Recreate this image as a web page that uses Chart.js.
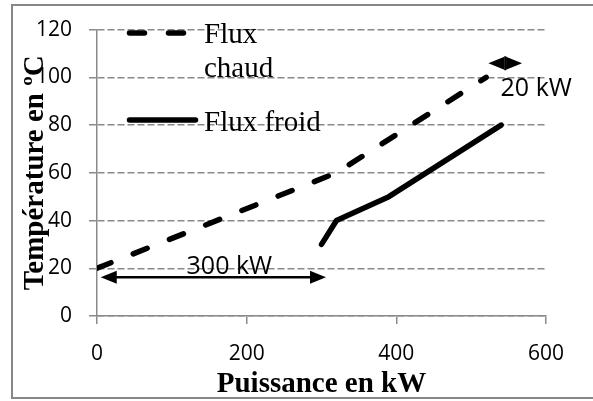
<!DOCTYPE html>
<html>
<head>
<meta charset="utf-8">
<script src="https://cdn.jsdelivr.net/npm/chart.js@4.4.1/dist/chart.umd.min.js"></script>
<style>
  html, body { margin: 0; padding: 0; background: #fff; }
  #wrap { width: 593px; height: 401px; }
</style>
</head>
<body>
<div id="wrap"><canvas id="pinch"></canvas></div>
<script>
// flux chaud / flux froid (kW, °C)
const hotX = [0, 320, 520];
const hotY = [20, 60, 100];
const coldX = [300, 320, 390, 540];
const coldY = [30, 40, 50, 80];

const xTicks = [0, 200, 400, 600];
const yTicks = [0, 20, 40, 60, 80, 100, 120];

// annotations in data units
const bigArrowX = [5, 306];
const bigArrowY = 16.2;
const bigArrowLabel = '300 kW';
const smallArrowX = [523, 568];
const smallArrowY = 105.9;
const smallArrowLabel = '20 kW';

const gridGrey = '#8a8a8a';
const serif = '"Liberation Serif", "DejaVu Serif", serif';
const sans = '"Open Sans", "Liberation Sans", sans-serif';

function toPoints(xs, ys){
  return xs.map((x, i) => ({x: x, y: ys[i]}));
}

function arrowHead(ctx, x, y, dir){
  ctx.beginPath();
  ctx.moveTo(x, y);
  ctx.lineTo(x - dir * 16, y - 6.5);
  ctx.lineTo(x - dir * 16, y + 6.5);
  ctx.closePath();
  ctx.fill();
}

const extras = {
  id: 'extras',
  beforeDraw(chart){
    const ctx = chart.ctx;
    ctx.save();
    ctx.fillStyle = '#fff';
    ctx.fillRect(0, 0, chart.width, chart.height);
    ctx.strokeStyle = '#878787';
    ctx.lineWidth = 2;
    ctx.strokeRect(12, 5, 620, 393);
    ctx.restore();
  },
  afterDraw(chart){
    const ctx = chart.ctx;
    const xs = chart.scales.x, ys = chart.scales.y;
    const area = chart.chartArea;
    ctx.save();

    // axis titles
    ctx.fillStyle = '#000';
    ctx.font = 'bold 29px ' + serif;
    ctx.textAlign = 'center';
    ctx.textBaseline = 'alphabetic';
    ctx.fillText('Puissance en kW', (area.left + area.right) / 2, 392);
    ctx.save();
    ctx.translate(43, (area.top + area.bottom) / 2);
    ctx.rotate(-Math.PI / 2);
    ctx.fillText('Température en ºC', 0, 0);
    ctx.restore();

    // legend
    ctx.strokeStyle = '#000';
    ctx.lineWidth = 5.5;
    ctx.lineCap = 'round';
    ctx.setLineDash([15, 24]);
    ctx.beginPath();
    ctx.moveTo(129.5, 33);
    ctx.lineTo(186, 33);
    ctx.stroke();
    ctx.setLineDash([]);
    ctx.beginPath();
    ctx.moveTo(129.5, 120);
    ctx.lineTo(195.5, 120);
    ctx.stroke();
    ctx.font = '29px ' + serif;
    ctx.textAlign = 'left';
    ctx.fillText('Flux', 204, 43);
    ctx.fillText('chaud', 204, 77);
    ctx.fillText('Flux froid', 204, 131);

    // 300 kW arrow
    let x1 = xs.getPixelForValue(bigArrowX[0]);
    let x2 = xs.getPixelForValue(bigArrowX[1]);
    let y = ys.getPixelForValue(bigArrowY);
    ctx.lineCap = 'butt';
    ctx.lineWidth = 2.5;
    ctx.beginPath();
    ctx.moveTo(x1 + 10, y);
    ctx.lineTo(x2 - 10, y);
    ctx.stroke();
    arrowHead(ctx, x1, y, -1);
    arrowHead(ctx, x2, y, 1);
    ctx.font = '25px ' + sans;
    ctx.textAlign = 'center';
    ctx.textBaseline = 'middle';
    ctx.fillText(bigArrowLabel, (x1 + x2) / 2 + 16, y - 10);

    // 20 kW arrow
    x1 = xs.getPixelForValue(smallArrowX[0]);
    x2 = xs.getPixelForValue(smallArrowX[1]);
    y = ys.getPixelForValue(smallArrowY);
    const mid = (x1 + x2) / 2;
    arrowHead(ctx, x1, y, -1);
    arrowHead(ctx, x2, y, 1);
    ctx.lineWidth = 2;
    ctx.beginPath();
    ctx.moveTo(mid, y - 7);
    ctx.lineTo(mid, y + 7);
    ctx.stroke();
    ctx.fillText(smallArrowLabel, mid + 31, y + 26);

    ctx.restore();
  }
};

new Chart(document.getElementById('pinch'), {
  type: 'line',
  data: {
    datasets: [{
      label: 'Flux chaud',
      data: toPoints(hotX, hotY),
      borderColor: '#000',
      borderWidth: 5.5,
      borderDash: [15, 24],
      borderCapStyle: 'round',
      pointRadius: 0,
      tension: 0,
      fill: false
    },
    {
      label: 'Flux froid',
      data: toPoints(coldX, coldY),
      borderColor: '#000',
      borderWidth: 5.5,
      borderCapStyle: 'round',
      borderJoinStyle: 'round',
      pointRadius: 0,
      tension: 0,
      fill: false
    }]
  },
  options: {
    responsive: true,
    maintainAspectRatio: false,
    animation: false,
    layout: {
      padding: { left: 0, right: 47, top: 25, bottom: 0 }
    },
    plugins: {
      legend: { display: false },
      tooltip: { enabled: false }
    },
    scales: {
      x: {
        type: 'linear',
        min: 0,
        max: 600,
        afterFit: s => { s.height = 85; },
        afterBuildTicks: s => { s.ticks = xTicks.map(v => ({value: v})); },
        border: { display: true, color: gridGrey, width: 1.5 },
        grid: {
          drawOnChartArea: false,
          drawTicks: true,
          tickLength: 8,
          color: gridGrey,
          lineWidth: 1.5
        },
        ticks: {
          color: '#000',
          padding: 17,
          maxRotation: 0,
          font: { family: sans, size: 21 }
        }
      },
      y: {
        min: 0,
        max: 120,
        afterFit: s => { s.width = 97; },
        afterBuildTicks: s => { s.ticks = yTicks.map(v => ({value: v})); },
        border: { display: true, color: gridGrey, width: 1.5, dash: [7, 3] },
        grid: {
          color: gridGrey,
          lineWidth: 1.5,
          tickLength: 8,
          tickBorderDash: []
        },
        ticks: {
          color: '#000',
          padding: 17,
          font: { family: sans, size: 21 }
        }
      }
    }
  },
  plugins: [extras]
});
</script>
</body>
</html>
